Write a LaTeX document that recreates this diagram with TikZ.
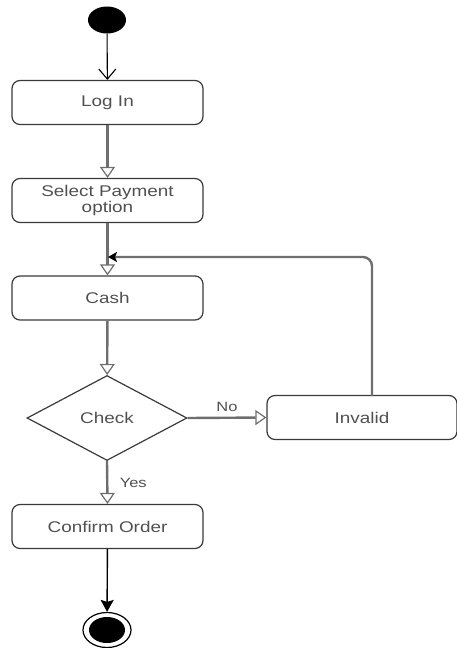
\documentclass[tikz,border=0pt]{standalone}
\usepackage{fontspec}
\setmainfont{Liberation Sans}
\newfontfamily\diagfont[FakeStretch=1.22]{Liberation Sans}
\usetikzlibrary{shapes.geometric,arrows.meta}
\definecolor{edgegray}{HTML}{6E6E6E}
\definecolor{boxline}{HTML}{3A3A3A}
\definecolor{labelgray}{HTML}{505050}
\tikzset{
  actbox/.style={draw=boxline, line width=1.2pt, rounded corners=8pt,
    minimum width=191pt, minimum height=44pt, inner sep=2pt,
    text=labelgray, font=\diagfont\fontsize{15.5}{18.5}\selectfont, align=center},
  decision/.style={diamond, draw=boxline, line width=1.2pt, aspect=1.88,
    minimum width=160pt, minimum height=85pt, inner sep=0pt,
    text=labelgray, font=\diagfont\fontsize{15.5}{18.5}\selectfont},
  flow/.style={draw=edgegray, line width=2.4pt,
    -{Triangle[open, length=11pt, width=15pt, line width=1.2pt]}},
  guard/.style={text=labelgray, font=\diagfont\fontsize{13.5}{16}\selectfont},
}
\begin{document}
\begin{tikzpicture}[x=1pt, y=-1pt]
  \useasboundingbox (0,0) rectangle (457,648);

  % initial and final states
  \node[ellipse, fill=black, minimum width=38pt, minimum height=27pt, inner sep=0pt] (start) at (107,20) {};
  \node[ellipse, draw=black, line width=1.2pt, minimum width=48pt, minimum height=35pt, inner sep=0pt] (stop) at (107,630) {};
  \node[ellipse, fill=black, minimum width=36pt, minimum height=26pt, inner sep=0pt] (stopdot) at (107,630) {};

  % activities
  \node[actbox] (login)   at (107.5,102.5) {Log In};
  \node[actbox] (select)  at (107.5,200.5) {Select Payment\\[-2pt]option};
  \node[actbox] (cash)    at (107.5,298)   {Cash};
  \node[decision] (check) at (107,418)     {Check};
  \node[actbox, minimum width=190pt] (invalid) at (362,417.5) {Invalid};
  \node[actbox] (confirm) at (107.5,526.5) {Confirm Order};

  % loop back point above Cash
  \coordinate (rejoin) at (108,257);
  \coordinate (loopfoot) at (372,396);

  % control flow
  \draw[line width=1.1pt, -{Straight Barb[length=10pt, width=17pt, line width=1.1pt]}]
    (start) -- (login);
  \draw[flow] (login) -- (select);
  \draw[flow] (select) -- (cash);
  \draw[flow] (cash) -- (check);
  \draw[flow] (check.east) -- node[guard, above=2pt, pos=0.5] {No} (invalid.west);
  \draw[flow] (check.south) -- node[guard, right=8pt, pos=0.5] {Yes} (confirm.north);
  \draw[draw=edgegray, line width=2.4pt, rounded corners=9pt,
    -{Stealth[length=9pt, width=10pt, inset=2pt, color=black]}]
    (loopfoot) |- (rejoin);
  \draw[line width=1.4pt, -{Stealth[length=12pt, width=13pt, inset=2pt]}]
    (confirm) -- (stop);
\end{tikzpicture}
\end{document}
